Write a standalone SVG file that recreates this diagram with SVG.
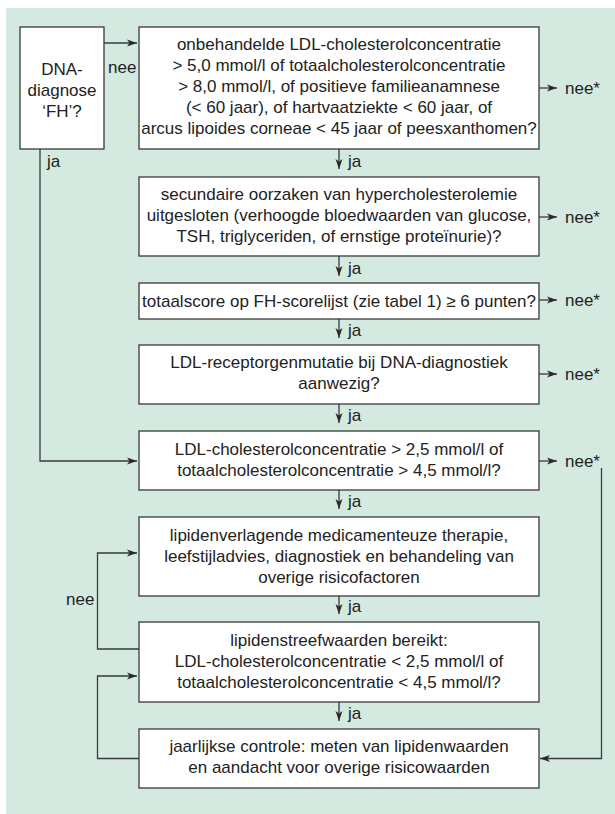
<svg xmlns="http://www.w3.org/2000/svg" width="615" height="814" viewBox="0 0 615 814">
<defs>
<marker id="ah" markerUnits="userSpaceOnUse" markerWidth="10" markerHeight="8" viewBox="0 0 10 8" refX="10" refY="4" orient="auto">
<path d="M0,0.5 L10,4 L0,7.5 L2.5,4 Z" fill="#2b2b2b"/>
</marker>
</defs>
<style>
.box{fill:#fff;stroke:#3a3a3a;stroke-width:1.3}
.t{font-family:"Liberation Sans",Arial,sans-serif;font-size:17px;fill:#222;text-anchor:middle}
.l{font-family:"Liberation Sans",Arial,sans-serif;font-size:17px;fill:#222}
.c{fill:none;stroke:#3a3a3a;stroke-width:1.3}
.a{fill:none;stroke:#3a3a3a;stroke-width:1.3;marker-end:url(#ah)}
</style>
<rect x="6" y="8" width="609" height="806" fill="#d4e9df"/>

<g id="n0">
<rect class="box" x="20" y="27" width="84" height="122"/>
<text class="t" x="62" y="75">DNA-</text>
<text class="t" x="62" y="96">diagnose</text>
<text class="t" x="62" y="117">‘FH’?</text>
</g>
<g id="n1">
<rect class="box" x="139" y="27" width="400" height="122"/>
<text class="t" x="339" y="50">onbehandelde LDL-cholesterolconcentratie</text>
<text class="t" x="339" y="71">&gt; 5,0 mmol/l of totaalcholesterolconcentratie</text>
<text class="t" x="339" y="92">&gt; 8,0 mmol/l, of positieve familieanamnese</text>
<text class="t" x="339" y="113">(&lt; 60 jaar), of hartvaatziekte &lt; 60 jaar, of</text>
<text class="t" x="339" y="134">arcus lipoides corneae &lt; 45 jaar of peesxanthomen?</text>
</g>
<g id="n2">
<rect class="box" x="139" y="177" width="400" height="79"/>
<text class="t" x="339" y="200">secundaire oorzaken van hypercholesterolemie</text>
<text class="t" x="339" y="221">uitgesloten (verhoogde bloedwaarden van glucose,</text>
<text class="t" x="339" y="242">TSH, triglyceriden, of ernstige proteïnurie)?</text>
</g>
<g id="n3">
<rect class="box" x="139" y="283" width="400" height="36"/>
<text class="t" x="339" y="307">totaalscore op FH-scorelijst (zie tabel 1) ≥ 6 punten?</text>
</g>
<g id="n4">
<rect class="box" x="139" y="345" width="400" height="59"/>
<text class="t" x="339" y="368">LDL-receptorgenmutatie bij DNA-diagnostiek</text>
<text class="t" x="339" y="389">aanwezig?</text>
</g>
<g id="n5">
<rect class="box" x="139" y="431" width="400" height="59"/>
<text class="t" x="339" y="455">LDL-cholesterolconcentratie &gt; 2,5 mmol/l of</text>
<text class="t" x="339" y="476">totaalcholesterolconcentratie &gt; 4,5 mmol/l?</text>
</g>
<g id="n6">
<rect class="box" x="139" y="517" width="400" height="79"/>
<text class="t" x="339" y="541">lipidenverlagende medicamenteuze therapie,</text>
<text class="t" x="339" y="562">leefstijladvies, diagnostiek en behandeling van</text>
<text class="t" x="339" y="583">overige risicofactoren</text>
</g>
<g id="n7">
<rect class="box" x="139" y="622" width="400" height="80"/>
<text class="t" x="339" y="646">lipidenstreefwaarden bereikt:</text>
<text class="t" x="339" y="667">LDL-cholesterolconcentratie &lt; 2,5 mmol/l of</text>
<text class="t" x="339" y="688">totaalcholesterolconcentratie &lt; 4,5 mmol/l?</text>
</g>
<g id="n8">
<rect class="box" x="139" y="729" width="400" height="59"/>
<text class="t" x="339" y="752">jaarlijkse controle: meten van lipidenwaarden</text>
<text class="t" x="339" y="773">en aandacht voor overige risicowaarden</text>
</g>

<g id="connectors">
<path class="a" d="M104,43 H137"/>
<text class="l" x="108" y="73">nee</text>
<path class="a" d="M40,149 V461 H137"/>
<text class="l" x="47" y="167">ja</text>

<path class="a" d="M339,149 V169"/>
<text class="l" x="348" y="167">ja</text>
<path class="a" d="M339,256 V276"/>
<text class="l" x="348" y="274">ja</text>
<path class="a" d="M339,319 V338"/>
<text class="l" x="348" y="336">ja</text>
<path class="a" d="M339,404 V423"/>
<text class="l" x="348" y="421">ja</text>
<path class="a" d="M339,490 V509"/>
<text class="l" x="348" y="507">ja</text>
<path class="a" d="M339,596 V614"/>
<text class="l" x="348" y="612">ja</text>
<path class="a" d="M339,702 V721"/>
<text class="l" x="348" y="719">ja</text>

<path class="a" d="M539,88 H557"/>
<text class="l" x="565" y="94">nee*</text>
<path class="a" d="M539,217 H557"/>
<text class="l" x="565" y="223">nee*</text>
<path class="a" d="M539,300 H557"/>
<text class="l" x="565" y="306">nee*</text>
<path class="a" d="M539,374 H557"/>
<text class="l" x="565" y="380">nee*</text>
<path class="a" d="M539,461 H557"/>
<text class="l" x="565" y="467">nee*</text>
<path class="a" d="M601.5,468 V758.5 H540"/>

<path class="a" d="M139,649 H97.5 V553 H137"/>
<text class="l" x="66" y="605">nee</text>
<path class="a" d="M139,758.5 H97.5 V676 H137"/>
</g>
</svg>
